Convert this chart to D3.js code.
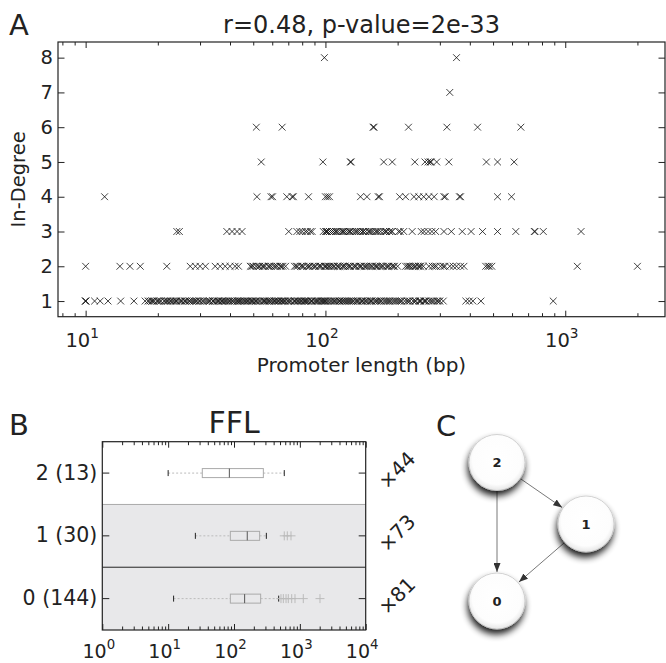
<!DOCTYPE html>
<html>
<head>
<meta charset="utf-8">
<script src="https://cdn.jsdelivr.net/npm/d3@7"></script>
<style>
  body { margin: 0; background: #fff; }
  svg { display: block; }
  text { font-family: "DejaVu Sans", sans-serif; fill: #222; }
</style>
</head>
<body>
<svg id="fig" width="666" height="663"></svg>
<script>
// ---- Panel A: promoter length (bp) of genes grouped by in-degree ----
const degrees = [1, 2, 3, 4, 5, 6, 7, 8];
const lengthsDeg1 = [10, 10, 10, 10.9, 11.5, 12.4, 14.0, 15.9, 17.7, 18.2, 18.5, 18.9, 19.0, 19.3, 19.8, 20.0, 20.3, 20.6, 21.2, 21.5, 21.8, 22.0, 22.4, 22.7, 23.1, 23.5, 23.8, 24.0, 24.6, 25.0, 25.3, 25.9, 26.0, 26.4, 27.0, 27.3, 27.8, 28.3, 28.8, 29.0, 29.6, 30.0, 30.7, 31.0, 31.6, 32.2, 32.6, 33.0, 33.9, 34.0, 34.5, 35.2, 35.6, 36.0, 36.8, 37.0, 37.5, 38.0, 38.4, 39.0, 39.5, 40.0, 40.8, 41.3, 41.9, 42.7, 43.0, 43.5, 44.0, 44.6, 45.2, 46.0, 46.3, 47.0, 47.5, 48.2, 49.0, 49.5, 50.0, 51.0, 51.3, 52.0, 53.0, 53.6, 54.8, 55.5, 56.0, 57.0, 58.0, 58.3, 59.1, 60.0, 61.0, 61.7, 62.5, 63.3, 64.0, 65.3, 66.0, 66.8, 67.5, 68.0, 69.5, 70.0, 71.0, 72.0, 73.8, 74.5, 75.0, 76.4, 77.0, 78.0, 79.0, 80.0, 81.5, 82.0, 83.0, 84.2, 85.0, 86.8, 87.5, 88.0, 90.0, 91.0, 92.0, 93.0, 94.5, 96.0, 97.0, 98.0, 99.0, 100, 100, 102, 103, 105, 106, 108, 109, 110, 112, 114, 115, 117, 118, 120, 121, 123, 125, 126, 128, 130, 131, 134, 136, 137, 140, 142, 143, 146, 148, 150, 153, 155, 156, 160, 162, 164, 167, 170, 171, 175, 178, 180, 183, 185, 187, 191, 195, 199, 203, 206, 208, 214, 219, 222, 225, 232, 236, 238, 245, 248, 250, 257, 260, 263, 270, 276, 280, 285, 292, 296, 300, 310, 385, 398, 412, 445, 891];
const lengthsDeg2 = [10, 13.9, 15.3, 16.9, 21.8, 27.3, 28.7, 30.0, 31.6, 34.7, 36.4, 38.2, 40.0, 42.0, 43.4, 48.6, 49.3, 50.0, 51.4, 52.5, 53.2, 54.6, 55.2, 56.0, 57.8, 58.5, 59.5, 61.0, 62.0, 63.0, 64.8, 65.5, 66.5, 68.2, 74.3, 75.5, 76.5, 78.9, 80.0, 81.0, 83.6, 85.0, 86.0, 88.4, 90.0, 91.0, 93.8, 95.0, 96.0, 99.0, 100, 101, 103, 104, 106, 108, 109, 112, 113, 115, 118, 119, 121, 124, 126, 127, 131, 133, 134, 138, 140, 141, 145, 147, 149, 152, 155, 157, 161, 163, 165, 169, 172, 174, 179, 182, 184, 189, 192, 194, 200, 216, 220, 223, 226, 231, 235, 238, 244, 247, 250, 256, 270, 279, 285, 290, 302, 310, 315, 330, 341, 352, 366, 378, 466, 476, 483, 494, 1123, 2000];
const lengthsDeg3 = [24.0, 24.6, 38.8, 40.8, 42.8, 44.9, 70.3, 76.0, 78.2, 80.0, 82.5, 84.0, 86.5, 88.0, 98.0, 100, 101, 102, 104, 106, 108, 110, 111, 113, 116, 118, 119, 121, 124, 126, 127, 130, 133, 135, 137, 140, 143, 144, 147, 151, 153, 155, 158, 162, 164, 166, 170, 175, 178, 180, 185, 188, 190, 202, 205, 212, 230, 251, 258, 268, 278, 288, 312, 335, 372, 405, 452, 522, 622, 743, 748, 810, 1164];
const lengthsDeg4 = [12, 51.8, 59.3, 60.2, 69.0, 72.6, 73.5, 85.0, 100, 102, 104, 140, 149, 166, 168, 204, 216, 234, 245, 257, 270, 284, 312, 316, 362, 366, 522, 597];
const lengthsDeg5 = [54, 97.6, 127, 128, 175, 190, 236, 260, 268, 273, 276, 291, 327, 469, 522, 612];
const lengthsDeg6 = [51.5, 66, 158, 159.5, 222, 321, 431, 653];
const lengthsDeg7 = [330];
const lengthsDeg8 = [99, 352];
const lengthsByDegree = [lengthsDeg1, lengthsDeg2, lengthsDeg3, lengthsDeg4, lengthsDeg5, lengthsDeg6, lengthsDeg7, lengthsDeg8];
const titleA = "r=0.48, p-value=2e-33";

// ---- Panel B: promoter lengths per FFL node role ----
const roles = ["2", "1", "0"];
const roleCounts = [13, 30, 144];
const ratioLabels = ["×44", "×73", "×81"];
const whiskerLow = [10, 25.9, 12.1];
const quartile1 = [33, 88, 88];
const medians = [85, 159, 145];
const quartile3 = [279, 245, 254];
const whiskerHigh = [580, 310, 477];
const outliers = [[], [580, 645, 734], [517, 561, 617, 668, 752, 844, 1128, 2023]];
const boxExponents = [0, 1, 2, 3, 4];

// ---- Panel C: feed-forward loop motif ----
const motifNodes = ["2", "1", "0"];
const motifEdges = [["2", "1"], ["2", "0"], ["1", "0"]];

const svg = d3.select("#fig");
const defs = svg.append("defs");

function logTicks(lo, hi) {
  const majors = [], minors = [];
  for (let e = Math.floor(Math.log10(lo)); e <= Math.ceil(Math.log10(hi)); e++) {
    for (let m = 1; m < 10; m++) {
      const v = m * Math.pow(10, e);
      if (v < lo * 0.9999 || v > hi * 1.0001) continue;
      (m === 1 ? majors : minors).push(v);
    }
  }
  return { majors, minors };
}

function powerLabel(textSel, exp, size) {
  textSel.text(null);
  textSel.append("tspan").text("10");
  textSel.append("tspan").attr("font-size", size * 0.7).attr("dy", -size * 0.45).text(exp);
}

// log x-axes with inward ticks on top and bottom
function logFrameAxes(g, x, top, bottom, majLen, minLen, labelY, size) {
  const [lo, hi] = x.domain();
  const { majors, minors } = logTicks(lo, hi);
  const style = s => s.attr("color", "#222").call(a => a.select(".domain").remove());
  g.append("g").attr("transform", `translate(0,${bottom})`)
    .call(d3.axisBottom(x).tickValues(minors).tickSize(-minLen).tickFormat("")).call(style);
  g.append("g").attr("transform", `translate(0,${top})`)
    .call(d3.axisTop(x).tickValues(minors).tickSize(-minLen).tickFormat("")).call(style);
  g.append("g").attr("transform", `translate(0,${top})`)
    .call(d3.axisTop(x).tickValues(majors).tickSize(-majLen).tickFormat("")).call(style);
  const bot = g.append("g").attr("transform", `translate(0,${bottom})`)
    .call(d3.axisBottom(x).tickValues(majors).tickSize(-majLen).tickFormat(d => d)).call(style);
  bot.selectAll(".tick text")
    .attr("y", labelY - bottom).attr("dy", null).attr("dx", -4)
    .attr("font-size", size).attr("font-family", "DejaVu Sans").attr("fill", "#222")
    .each(function (d) { powerLabel(d3.select(this), Math.round(Math.log10(d)), size); });
}

// ================= Panel A =================
const A = { l: 58, r: 665, t: 42, b: 316.7 };
const xA = d3.scaleLog().domain([7.67, 2606]).range([A.l, A.r]);
const yA = d3.scaleLinear().domain([0.55, 8.45]).range([A.b, A.t]);
const gA = svg.append("g");

const points = [];
lengthsByDegree.forEach((arr, i) => arr.forEach(v => points.push({ len: v, deg: degrees[i] })));
gA.append("g").selectAll("path").data(points).join("path")
  .attr("d", "M-3.4,-3.4L3.4,3.4M-3.4,3.4L3.4,-3.4")
  .attr("transform", d => `translate(${xA(d.len)},${yA(d.deg)})`)
  .attr("stroke", "#111").attr("stroke-width", 0.8).attr("fill", "none");

logFrameAxes(gA, xA, A.t, A.b, 6, 3.5, 347, 19.5);

const yAxStyle = s => s.attr("color", "#222").call(a => a.select(".domain").remove());
gA.append("g").attr("transform", `translate(${A.l},0)`)
  .call(d3.axisLeft(yA).tickValues(degrees).tickSize(-6.5).tickPadding(5)).call(yAxStyle)
  .selectAll(".tick text").attr("font-size", 19.5).attr("font-family", "DejaVu Sans").attr("fill", "#222");
gA.append("g").attr("transform", `translate(${A.r},0)`)
  .call(d3.axisRight(yA).tickValues(degrees).tickSize(-6.5).tickFormat("")).call(yAxStyle);

gA.append("rect").attr("x", A.l).attr("y", A.t).attr("width", A.r - A.l).attr("height", A.b - A.t)
  .attr("fill", "none").attr("stroke", "#222").attr("stroke-width", 1.2);

svg.append("text").attr("x", (A.l + A.r) / 2).attr("y", 33).attr("text-anchor", "middle")
  .attr("font-size", 24).text(titleA);
svg.append("text").attr("x", 9).attr("y", 35).attr("font-size", 29).text("A");
svg.append("text").attr("x", (A.l + A.r) / 2).attr("y", 372).attr("text-anchor", "middle")
  .attr("font-size", 20).text("Promoter length (bp)");
svg.append("text").attr("transform", `translate(25,${(A.t + A.b) / 2}) rotate(-90)`)
  .attr("text-anchor", "middle").attr("font-size", 19.5).text("In-Degree");

// ================= Panel B =================
const B = { l: 102.3, r: 365.7, t: 441.7, b: 630 };
const xB = d3.scaleLog().domain([Math.pow(10, boxExponents[0]), Math.pow(10, boxExponents[boxExponents.length - 1])]).range([B.l, B.r]);
const yB = d3.scaleBand().domain(roles).range([B.t, B.b]);
const gB = svg.append("g");
const bw = yB.bandwidth();

gB.selectAll("rect.band").data(roles.filter((r, i) => i > 0)).join("rect")
  .attr("x", B.l).attr("y", d => yB(d)).attr("width", B.r - B.l).attr("height", bw)
  .attr("fill", "#e8e8ea");
gB.append("line").attr("x1", B.l).attr("x2", B.r).attr("y1", yB("1")).attr("y2", yB("1"))
  .attr("stroke", "#aaa").attr("stroke-width", 1);
gB.append("line").attr("x1", B.l).attr("x2", B.r).attr("y1", yB("0")).attr("y2", yB("0"))
  .attr("stroke", "#222").attr("stroke-width", 1);

const boxes = roles.map((r, i) => ({
  role: r, lo: whiskerLow[i], q1: quartile1[i], med: medians[i], q3: quartile3[i], hi: whiskerHigh[i], out: outliers[i]
}));
const boxH = 9, capH = 6;
const bg = gB.selectAll("g.box").data(boxes).join("g")
  .attr("transform", d => `translate(0,${yB(d.role) + bw / 2})`);
bg.append("line").attr("x1", d => xB(d.lo)).attr("x2", d => xB(d.q1)).attr("stroke", "#bbb")
  .attr("stroke-dasharray", "2,2").attr("stroke-width", 1);
bg.append("line").attr("x1", d => xB(d.q3)).attr("x2", d => xB(d.hi)).attr("stroke", "#bbb")
  .attr("stroke-dasharray", "2,2").attr("stroke-width", 1);
bg.append("rect").attr("x", d => xB(d.q1)).attr("y", -boxH / 2).attr("width", d => xB(d.q3) - xB(d.q1))
  .attr("height", boxH).attr("fill", "none").attr("stroke", "#aaa").attr("stroke-width", 1);
bg.append("line").attr("x1", d => xB(d.med)).attr("x2", d => xB(d.med)).attr("y1", -boxH / 2).attr("y2", boxH / 2)
  .attr("stroke", "#555").attr("stroke-width", 1);
bg.append("line").attr("x1", d => xB(d.lo)).attr("x2", d => xB(d.lo)).attr("y1", -capH / 2).attr("y2", capH / 2)
  .attr("stroke", "#222").attr("stroke-width", 1);
bg.append("line").attr("x1", d => xB(d.hi)).attr("x2", d => xB(d.hi)).attr("y1", -capH / 2).attr("y2", capH / 2)
  .attr("stroke", "#222").attr("stroke-width", 1);
bg.selectAll("path.out").data(d => d.out).join("path")
  .attr("d", "M-4.5,0H4.5M0,-4.5V4.5")
  .attr("transform", v => `translate(${xB(v)},0)`)
  .attr("stroke", "#bbb").attr("stroke-width", 1).attr("fill", "none");

logFrameAxes(gB, xB, B.t, B.b, 6, 3.5, 657.5, 19);

gB.append("g").attr("transform", `translate(${B.l},0)`)
  .call(d3.axisLeft(yB).tickSize(-7).tickPadding(5).tickFormat((d, i) => `${d} (${roleCounts[i]})`)).call(yAxStyle)
  .selectAll(".tick text").attr("font-size", 20.5).attr("font-family", "DejaVu Sans").attr("fill", "#222");
gB.append("g").attr("transform", `translate(${B.r},0)`)
  .call(d3.axisRight(yB).tickSize(-7).tickFormat("")).call(yAxStyle);

gB.append("rect").attr("x", B.l).attr("y", B.t).attr("width", B.r - B.l).attr("height", B.b - B.t)
  .attr("fill", "none").attr("stroke", "#222").attr("stroke-width", 1.2);

gB.selectAll("text.ratio").data(roles).join("text")
  .attr("transform", d => `translate(397,${yB(d) + bw / 2 - 3}) rotate(-45)`)
  .attr("text-anchor", "middle").attr("dy", "0.35em").attr("font-size", 20)
  .text((d, i) => ratioLabels[i]);

svg.append("text").attr("x", (B.l + B.r) / 2).attr("y", 433).attr("text-anchor", "middle")
  .attr("font-size", 30).text("FFL");
svg.append("text").attr("x", 9).attr("y", 435).attr("font-size", 29).text("B");

// ================= Panel C =================
svg.append("text").attr("x", 436).attr("y", 436).attr("font-size", 29).text("C");

const nodePos = { "2": [497, 462.5], "1": [586, 524], "0": [497, 601] };
const R = 28;

const shadow = defs.append("filter").attr("id", "nodeShadow")
  .attr("x", "-50%").attr("y", "-50%").attr("width", "200%").attr("height", "200%");
shadow.append("feGaussianBlur").attr("in", "SourceAlpha").attr("stdDeviation", 3.5).attr("result", "blur");
shadow.append("feOffset").attr("in", "blur").attr("dx", -1).attr("dy", 5).attr("result", "off");
shadow.append("feComponentTransfer").attr("in", "off").attr("result", "soft")
  .append("feFuncA").attr("type", "linear").attr("slope", 0.9);
const merge = shadow.append("feMerge");
merge.append("feMergeNode").attr("in", "soft");
merge.append("feMergeNode").attr("in", "SourceGraphic");

const grad = defs.append("radialGradient").attr("id", "nodeFill").attr("cx", "50%").attr("cy", "45%").attr("r", "55%");
grad.append("stop").attr("offset", "0%").attr("stop-color", "#fff");
grad.append("stop").attr("offset", "80%").attr("stop-color", "#fdfdfd");
grad.append("stop").attr("offset", "100%").attr("stop-color", "#e6e6e6");

defs.append("marker").attr("id", "arrowHead").attr("viewBox", "0 0 9 7")
  .attr("refX", 9).attr("refY", 3.5).attr("markerWidth", 9).attr("markerHeight", 7)
  .attr("markerUnits", "userSpaceOnUse").attr("orient", "auto")
  .append("path").attr("d", "M0,0L9,3.5L0,7Z").attr("fill", "#333");

const gC = svg.append("g");
gC.selectAll("line.edge").data(motifEdges).join("line")
  .each(function ([s, t]) {
    const [x1, y1] = nodePos[s], [x2, y2] = nodePos[t];
    const L = Math.hypot(x2 - x1, y2 - y1), ux = (x2 - x1) / L, uy = (y2 - y1) / L;
    d3.select(this)
      .attr("x1", x1 + ux * R).attr("y1", y1 + uy * R)
      .attr("x2", x2 - ux * (R + 1)).attr("y2", y2 - uy * (R + 1));
  })
  .attr("stroke", "#555").attr("stroke-width", 0.8).attr("marker-end", "url(#arrowHead)");

const ng = gC.selectAll("g.node").data(motifNodes).join("g")
  .attr("transform", d => `translate(${nodePos[d][0]},${nodePos[d][1]})`);
ng.append("circle").attr("r", R).attr("fill", "url(#nodeFill)")
  .attr("stroke", "#c8c8c8").attr("stroke-width", 0.8).attr("filter", "url(#nodeShadow)");
ng.append("text").attr("text-anchor", "middle").attr("dy", "0.36em")
  .attr("font-family", "Liberation Sans, Arial, sans-serif").attr("font-weight", "bold")
  .attr("font-size", 13).text(d => d);
</script>
</body>
</html>
